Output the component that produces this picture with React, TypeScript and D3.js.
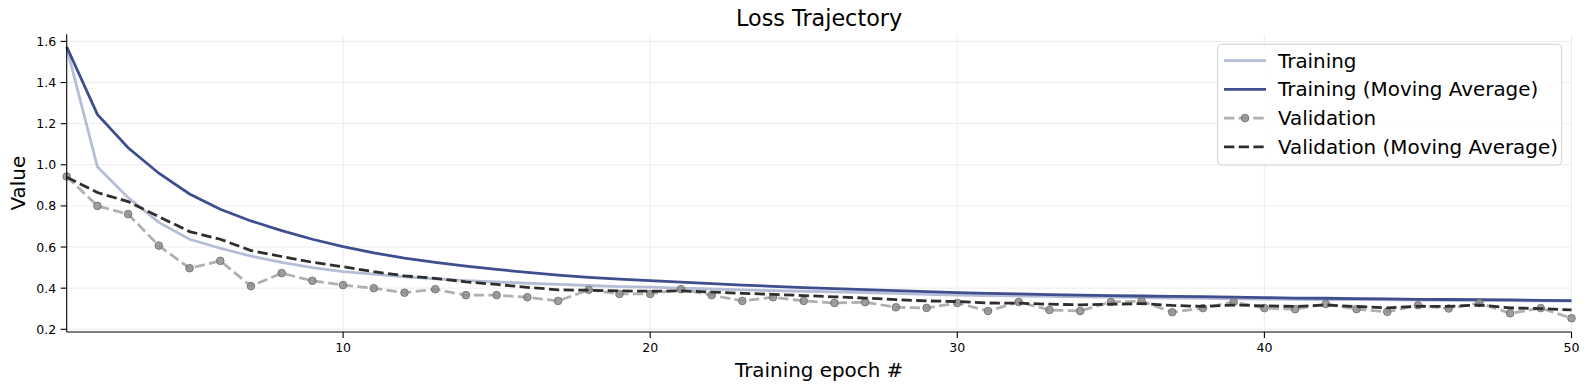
import React from "react";
import * as d3 from "d3";

// epochs 1..50
const epochs = d3.range(1, 51);

const training = [
  1.57, 0.99, 0.84, 0.72, 0.638, 0.594, 0.556, 0.525, 0.5, 0.48,
  0.468, 0.455, 0.445, 0.437, 0.43, 0.424, 0.418, 0.413, 0.408, 0.405,
  0.4, 0.396, 0.392, 0.388, 0.385, 0.382, 0.379, 0.375, 0.37, 0.366,
  0.364, 0.362, 0.36, 0.358, 0.356, 0.354, 0.352, 0.35, 0.348, 0.347,
  0.346, 0.345, 0.344, 0.343, 0.342, 0.341, 0.34, 0.339, 0.338, 0.337,
];

const trainingMA = [
  1.574, 1.245, 1.083, 0.959, 0.858, 0.784, 0.727, 0.68, 0.638, 0.602,
  0.572, 0.546, 0.525, 0.507, 0.491, 0.477, 0.464, 0.453, 0.444, 0.437,
  0.429, 0.422, 0.415, 0.409, 0.403, 0.398, 0.393, 0.388, 0.383, 0.378,
  0.375, 0.372, 0.369, 0.366, 0.364, 0.362, 0.36, 0.359, 0.357, 0.354,
  0.352, 0.351, 0.349, 0.348, 0.346, 0.345, 0.344, 0.343, 0.341, 0.34,
];

const validation = [
  0.943, 0.8, 0.76, 0.607, 0.497, 0.533, 0.41, 0.473, 0.436, 0.415,
  0.4, 0.378, 0.395, 0.366, 0.366, 0.356, 0.338, 0.392, 0.372, 0.372,
  0.395, 0.366, 0.338, 0.356, 0.338, 0.328, 0.332, 0.307, 0.304, 0.328,
  0.289, 0.333, 0.294, 0.289, 0.333, 0.337, 0.283, 0.303, 0.333, 0.303,
  0.298, 0.323, 0.298, 0.285, 0.317, 0.301, 0.328, 0.278, 0.303, 0.254,
];

const validationMA = [
  0.94, 0.865, 0.821, 0.748, 0.675, 0.638, 0.583, 0.554, 0.526, 0.504,
  0.48, 0.46, 0.448, 0.431, 0.418, 0.404, 0.392, 0.39, 0.387, 0.385,
  0.387, 0.381, 0.375, 0.37, 0.364, 0.358, 0.352, 0.344, 0.338, 0.335,
  0.328, 0.327, 0.322, 0.319, 0.322, 0.325, 0.316, 0.311, 0.318, 0.314,
  0.311, 0.318, 0.311, 0.304, 0.312, 0.311, 0.318, 0.304, 0.301, 0.294,
];

const yTicks = [0.2, 0.4, 0.6, 0.8, 1.0, 1.2, 1.4, 1.6];
const xTicks = [10, 20, 30, 40, 50];
const legendLabels = [
  "Training",
  "Training (Moving Average)",
  "Validation",
  "Validation (Moving Average)",
];

const W = 1589;
const H = 390;
const FONT = "DejaVu Sans, sans-serif";

const C_TRAIN = "#b5bdd7";
const C_TRAIN_MA = "#3e4e8e";
const C_VAL = "#b0b0b0";
const C_VAL_MA = "#2e2e2e";
const LW = 2.78;
const DASH = "10.3,4.4";

export default function App() {
  const x = d3.scaleLinear().domain([1, 50]).range([66.7, 1571.5]);
  const y = d3.scaleLinear().domain([0.1869, 1.6345]).range([332, 34.3]);

  const [x0, x1] = x.range();
  const [yb, yt] = y.range();

  const line = d3
    .line<number>()
    .x((_, i) => x(epochs[i]))
    .y((d) => y(d));

  // legend box
  const lgX = 1217.7;
  const lgY = 44.3;
  const lgW = 344;
  const lgH = 120.7;
  const rowY = (i: number) => 60.7 + i * 28.7;

  return (
    <svg
      width={W}
      height={H}
      style={{ position: "absolute", left: 0, top: 0, background: "#fff" }}
      fontFamily={FONT}
    >
      {/* grid */}
      {yTicks.map((t) => (
        <line key={"gy" + t} x1={x0} x2={x1} y1={y(t)} y2={y(t)} stroke="#ebebeb" strokeWidth={0.9} />
      ))}
      {xTicks.map((t) => (
        <line key={"gx" + t} x1={x(t)} x2={x(t)} y1={yb} y2={yt} stroke="#ebebeb" strokeWidth={0.9} />
      ))}

      {/* series */}
      <path d={line(training) ?? ""} fill="none" stroke={C_TRAIN} strokeWidth={LW} />
      <path d={line(trainingMA) ?? ""} fill="none" stroke={C_TRAIN_MA} strokeWidth={LW} />
      <path d={line(validation) ?? ""} fill="none" stroke={C_VAL} strokeWidth={LW} strokeDasharray={DASH} />
      {validation.map((v, i) => (
        <circle key={"m" + i} cx={x(epochs[i])} cy={y(v)} r={3.8} fill="#8e8e8e" fillOpacity={0.85} stroke="#6f6f6f" strokeWidth={0.9} />
      ))}
      <path d={line(validationMA) ?? ""} fill="none" stroke={C_VAL_MA} strokeWidth={LW} strokeDasharray={DASH} />

      {/* axes */}
      <line x1={x0} x2={x0} y1={yb} y2={yt} stroke="#000" strokeWidth={1.1} />
      <line x1={x0} x2={x1} y1={yb} y2={yb} stroke="#000" strokeWidth={1.1} />
      {yTicks.map((t) => (
        <g key={"ty" + t}>
          <line x1={x0 - 6} x2={x0} y1={y(t)} y2={y(t)} stroke="#000" strokeWidth={1.1} />
          <text x={x0 - 10.5} y={y(t)} dy="0.36em" textAnchor="end" fontSize={12.5} fill="#000">
            {t.toFixed(1)}
          </text>
        </g>
      ))}
      {xTicks.map((t) => (
        <g key={"tx" + t}>
          <line x1={x(t)} x2={x(t)} y1={yb} y2={yb + 6} stroke="#000" strokeWidth={1.1} />
          <text x={x(t)} y={351.7} textAnchor="middle" fontSize={12.5} fill="#000">
            {t}
          </text>
        </g>
      ))}

      {/* labels */}
      <text x={(x0 + x1) / 2} y={26} textAnchor="middle" fontSize={22.3} fill="#000">
        Loss Trajectory
      </text>
      <text x={(x0 + x1) / 2} y={376.7} textAnchor="middle" fontSize={19.9} fill="#000">
        Training epoch #
      </text>
      <text
        transform={`translate(25,${(yb + yt) / 2}) rotate(-90)`}
        textAnchor="middle"
        fontSize={19.9}
        fill="#000"
      >
        Value
      </text>

      {/* legend */}
      <rect x={lgX} y={lgY} width={lgW} height={lgH} rx={4} fill="#fff" fillOpacity={0.8} stroke="#d0d0d0" strokeWidth={1} />
      <line x1={1224} x2={1266} y1={rowY(0)} y2={rowY(0)} stroke={C_TRAIN} strokeWidth={LW} />
      <line x1={1224} x2={1266} y1={rowY(1)} y2={rowY(1)} stroke={C_TRAIN_MA} strokeWidth={LW} />
      <line x1={1224} x2={1266} y1={rowY(2)} y2={rowY(2)} stroke={C_VAL} strokeWidth={LW} strokeDasharray={DASH} />
      <circle cx={1245} cy={rowY(2)} r={3.8} fill="#8e8e8e" fillOpacity={0.85} stroke="#6f6f6f" strokeWidth={0.9} />
      <line x1={1224} x2={1266} y1={rowY(3)} y2={rowY(3)} stroke={C_VAL_MA} strokeWidth={LW} strokeDasharray={DASH} />
      {legendLabels.map((l, i) => (
        <text key={l} x={1278} y={rowY(i) + 7} fontSize={19.9} fill="#000">
          {l}
        </text>
      ))}
    </svg>
  );
}
